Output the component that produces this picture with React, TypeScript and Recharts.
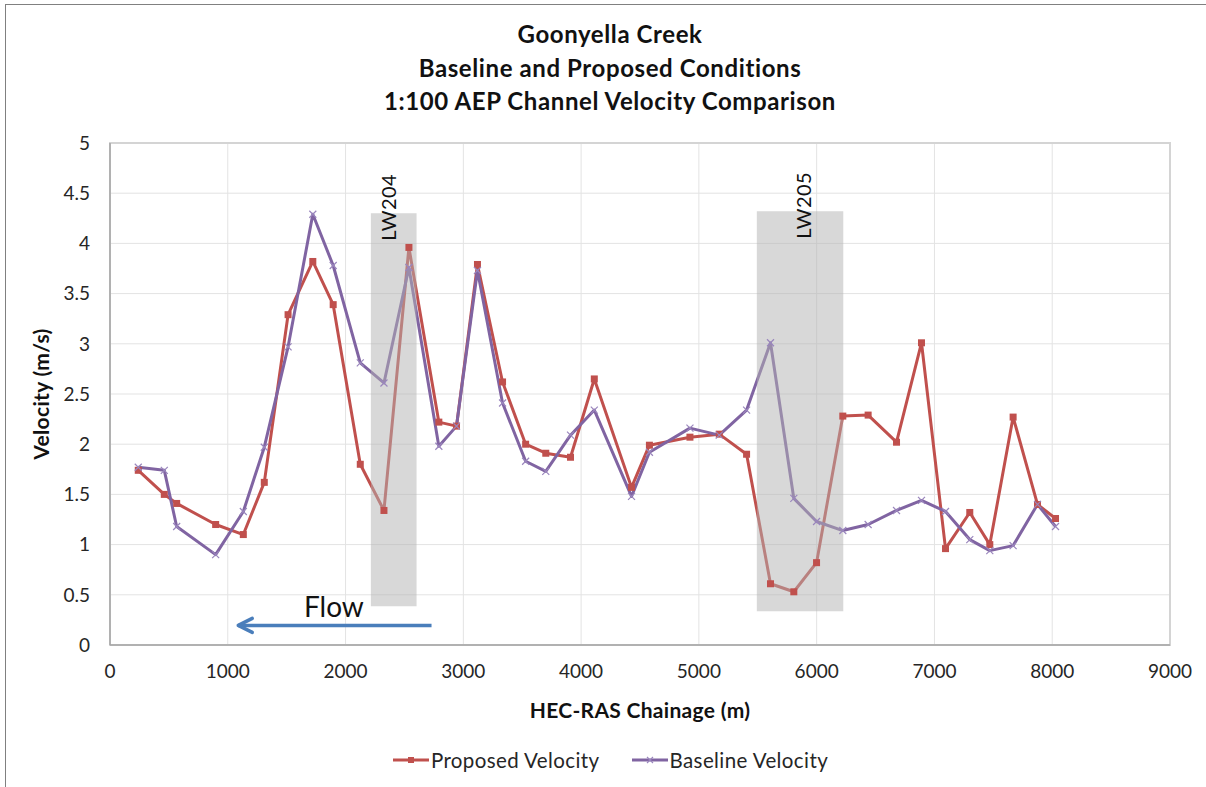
import {
  CartesianGrid,
  Label,
  Legend,
  Line,
  LineChart,
  ReferenceArea,
  ReferenceDot,
  ReferenceLine,
  XAxis,
  YAxis,
} from "recharts";

// HEC-RAS chainage (m) of each cross-section, shared by both runs
const CHAINAGE = [
  240, 461, 566, 897, 1132, 1310, 1512, 1722, 1895, 2125, 2326, 2538, 2792,
  2942, 3120, 3333, 3529, 3700, 3910, 4112, 4428, 4580, 4924, 5173, 5405,
  5608, 5806, 5999, 6222, 6437, 6678, 6890, 7094, 7300, 7470, 7668, 7875,
  8028,
];

const PROPOSED = [
  1.74, 1.5, 1.41, 1.2, 1.1, 1.62, 3.29, 3.82, 3.39, 1.8, 1.34, 3.96, 2.22,
  2.18, 3.79, 2.62, 2.0, 1.91, 1.87, 2.65, 1.57, 1.99, 2.07, 2.1, 1.9, 0.61,
  0.53, 0.82, 2.28, 2.29, 2.02, 3.01, 0.96, 1.32, 1.0, 2.27, 1.4, 1.26,
];

const BASELINE = [
  1.77, 1.74, 1.18, 0.9, 1.33, 1.97, 2.97, 4.29, 3.78, 2.81, 2.61, 3.76, 1.98,
  2.18, 3.73, 2.41, 1.83, 1.73, 2.09, 2.34, 1.48, 1.92, 2.16, 2.09, 2.34, 3.01,
  1.46, 1.23, 1.14, 1.2, 1.34, 1.44, 1.33, 1.05, 0.94, 0.99, 1.4, 1.18,
];

const X_TICKS = [0, 1000, 2000, 3000, 4000, 5000, 6000, 7000, 8000, 9000];
const Y_TICKS = [0, 0.5, 1, 1.5, 2, 2.5, 3, 3.5, 4, 4.5, 5];

// longwall panels: chainage extent, velocity extent of the shaded box, label chainage
const LW_NAMES = ["LW204", "LW205"];
const LW_FROM = [2215, 5492];
const LW_TO = [2603, 6226];
const LW_TOP = [4.3, 4.32];
const LW_BOTTOM = [0.386, 0.335];
const LW_LABEL_AT = [2362, 5887];

// flow arrow (tail -> head) and its caption
const FLOW_FROM = 2730;
const FLOW_TO = 1089;
const FLOW_Y = 0.195;
const FLOW_TEXT_AT = { x: 1901, y: 0.39 };

const RED = "#c0504d";
const PURPLE = "#8064a2";
const FONT = "Lato, 'Open Sans', sans-serif";
const TEXT = "#262626";

const rows = CHAINAGE.map((x, i) => ({
  x,
  proposed: PROPOSED[i],
  baseline: BASELINE[i],
}));

function SquareDot(props: any) {
  const { cx, cy, key } = props;
  if (cx == null || cy == null) return <g key={key} />;
  return <rect key={key} x={cx - 3.5} y={cy - 3.5} width={7} height={7} fill={RED} />;
}

function CrossDot(props: any) {
  const { cx, cy, key } = props;
  if (cx == null || cy == null) return <g key={key} />;
  const s = 3.5;
  return (
    <path
      key={key}
      d={`M${cx - s},${cy - s}L${cx + s},${cy + s}M${cx + s},${cy - s}L${cx - s},${cy + s}`}
      stroke="#9a86bd"
      strokeWidth={1.2}
      fill="none"
    />
  );
}

function FlowArrow(props: any) {
  const { x1, y1, x2, y2 } = props;
  const head = `${x2 + 14},${y2 - 7} ${x2},${y2} ${x2 + 14},${y2 + 7}`;
  return (
    <g>
      <line x1={x1} y1={y1} x2={x2} y2={y2} stroke="#4a7ebb" strokeWidth={3.5} />
      <polyline
        points={head}
        fill="none"
        stroke="#4a7ebb"
        strokeWidth={3.5}
        strokeLinecap="round"
        strokeLinejoin="round"
      />
    </g>
  );
}

function lwLabel(i: number) {
  return (props: any) => {
    const vb = props.viewBox;
    if (!vb) return null;
    const frac = (LW_LABEL_AT[i] - LW_FROM[i]) / (LW_TO[i] - LW_FROM[i]);
    const cx = vb.x + vb.width * frac;
    const cy = vb.y - 6;
    return (
      <text
        x={cx}
        y={cy}
        transform={`rotate(-90, ${cx}, ${cy})`}
        textAnchor="middle"
        dominantBaseline="central"
        fontFamily={FONT}
        fontSize={20}
        letterSpacing={0.5}
        fill="#111"
      >
        {LW_NAMES[i]}
      </text>
    );
  };
}

function FlowCaption(props: any) {
  const vb = props.viewBox;
  if (!vb) return null;
  return (
    <text
      x={vb.x + vb.width / 2}
      y={vb.y + vb.height / 2}
      textAnchor="middle"
      dominantBaseline="central"
      fontFamily={FONT}
      fontSize={28}
      fill="#111"
    >
      Flow
    </text>
  );
}

function XTitle(props: any) {
  const vb = props.viewBox ?? { x: 110, y: 645, width: 1060, height: 70 };
  return (
    <text
      x={vb.x + vb.width / 2}
      y={vb.y + 64}
      textAnchor="middle"
      dominantBaseline="central"
      fontFamily={FONT}
      fontWeight={700}
      fontSize={21}
      letterSpacing={0.3}
      fill="#111"
    >
      HEC-RAS Chainage (m)
    </text>
  );
}

function YTitle(props: any) {
  const vb = props.viewBox ?? { x: 0, y: 143, width: 110, height: 502 };
  const cx = vb.x + 40;
  const cy = vb.y + vb.height / 2;
  return (
    <text
      x={cx}
      y={cy}
      transform={`rotate(-90, ${cx}, ${cy})`}
      textAnchor="middle"
      dominantBaseline="central"
      fontFamily={FONT}
      fontWeight={700}
      fontSize={21}
      letterSpacing={0.3}
      fill="#111"
    >
      Velocity (m/s)
    </text>
  );
}

function LegendContent() {
  const items = [
    { name: "Proposed Velocity", color: RED, square: true },
    { name: "Baseline Velocity", color: PURPLE, square: false },
  ];
  return (
    <div
      style={{
        display: "flex",
        justifyContent: "center",
        alignItems: "center",
        gap: 32,
        fontFamily: FONT,
        fontSize: 20.5,
        letterSpacing: 0.4,
        color: TEXT,
      }}
    >
      {items.map((it) => (
        <div key={it.name} style={{ display: "flex", alignItems: "center" }}>
          <svg width={36} height={12}>
            <line x1={0} y1={6} x2={36} y2={6} stroke={it.color} strokeWidth={3} />
            {it.square ? (
              <rect x={15} y={3} width={6} height={6} fill={it.color} />
            ) : (
              <path d="M15,3L21,9M21,3L15,9" stroke="#9a86bd" strokeWidth={1.2} />
            )}
          </svg>
          <span style={{ marginLeft: 2 }}>{it.name}</span>
        </div>
      ))}
    </div>
  );
}

export default function App() {
  const tick = { fontSize: 19, fill: TEXT, fontFamily: FONT };
  return (
    <div
      style={{
        position: "absolute",
        left: 0,
        top: 0,
        width: 1206,
        height: 787,
        background: "#fff",
        overflow: "hidden",
      }}
    >
      <div
        style={{
          position: "absolute",
          left: 5,
          top: 4,
          width: 1300,
          height: 900,
          borderTop: "1px solid #808080",
          borderLeft: "1px solid #808080",
        }}
      />
      <div
        style={{
          position: "absolute",
          left: 0,
          top: 17,
          width: 1220,
          textAlign: "center",
          fontFamily: FONT,
          fontWeight: 700,
          fontSize: 24,
          letterSpacing: 0.6,
          lineHeight: "33.5px",
          color: "#111",
        }}
      >
        <div>Goonyella Creek</div>
        <div>Baseline and Proposed Conditions</div>
        <div>1:100 AEP Channel Velocity Comparison</div>
      </div>
      <div style={{ position: "absolute", left: 0, top: 0 }}>
        <LineChart
          width={1206}
          height={787}
          data={rows}
          margin={{ top: 143, right: 36, bottom: 72, left: 0 }}
        >
          <CartesianGrid stroke="#e3e3e3" strokeWidth={1} />
          <XAxis
            dataKey="x"
            type="number"
            domain={[0, 9000]}
            ticks={X_TICKS}
            height={70}
            tick={tick}
            tickLine={false}
            tickSize={0}
            tickMargin={20}
            axisLine={{ stroke: "#a6a6a6", strokeWidth: 1.5 }}
          >
            <Label content={XTitle} />
          </XAxis>
          <YAxis
            type="number"
            domain={[0, 5]}
            ticks={Y_TICKS}
            width={110}
            tick={tick}
            tickLine={false}
            tickSize={0}
            tickMargin={20}
            axisLine={{ stroke: "#a6a6a6", strokeWidth: 1.5 }}
          >
            <Label content={YTitle} />
          </YAxis>
          <ReferenceArea
            x1={0}
            x2={9000}
            y1={0}
            y2={5}
            fill="none"
            stroke="#d4d4d4"
            strokeWidth={2}
          />
          <Line
            dataKey="proposed"
            name="Proposed Velocity"
            stroke={RED}
            strokeWidth={3}
            strokeLinejoin="round"
            dot={SquareDot}
            activeDot={false}
            isAnimationActive={false}
          />
          <Line
            dataKey="baseline"
            name="Baseline Velocity"
            stroke={PURPLE}
            strokeWidth={3}
            strokeLinejoin="round"
            dot={CrossDot}
            activeDot={false}
            isAnimationActive={false}
          />
          {LW_NAMES.map((name, i) => (
            <ReferenceArea
              key={name}
              x1={LW_FROM[i]}
              x2={LW_TO[i]}
              y1={LW_BOTTOM[i]}
              y2={LW_TOP[i]}
              fill="#b2b2b2"
              fillOpacity={0.5}
              stroke="none"
              zIndex={450}
              label={lwLabel(i)}
            />
          ))}
          <ReferenceLine
            segment={[
              { x: FLOW_FROM, y: FLOW_Y },
              { x: FLOW_TO, y: FLOW_Y },
            ]}
            shape={FlowArrow}
          />
          <ReferenceDot
            x={FLOW_TEXT_AT.x}
            y={FLOW_TEXT_AT.y}
            r={0}
            fill="none"
            stroke="none"
            label={FlowCaption}
          />
          <Legend
            verticalAlign="middle"
            align="center"
            layout="horizontal"
            content={LegendContent}
            wrapperStyle={{ top: 748, left: 0, width: 1221 }}
          />
        </LineChart>
      </div>
    </div>
  );
}
